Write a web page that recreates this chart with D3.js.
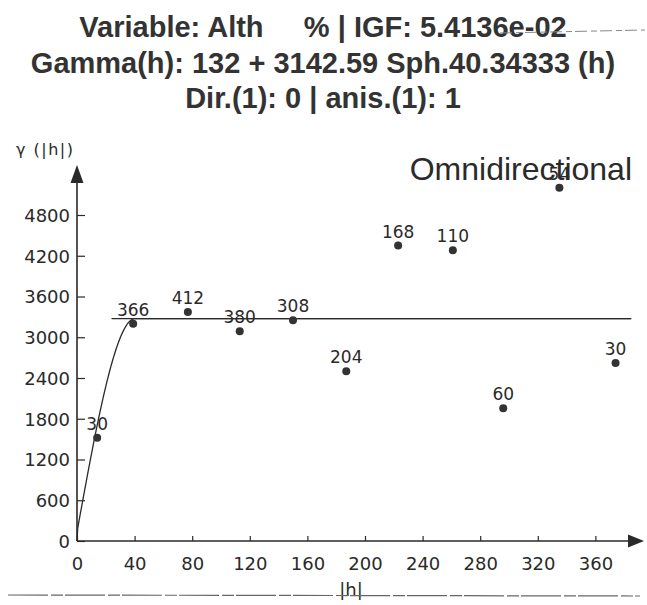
<!DOCTYPE html>
<html>
<head>
<meta charset="utf-8">
<script src="https://cdn.jsdelivr.net/npm/d3@7"></script>
<style>
  html, body { margin: 0; padding: 0; background: #fff; }
  svg { display: block; font-family: "DejaVu Sans", sans-serif; }
</style>
</head>
<body>
<svg id="chart" width="647" height="605"></svg>
<script>
// Experimental variogram: lag distance, semivariance and number of pairs
const lagH     = [14, 39, 77, 113, 150, 187, 223, 261, 296, 335, 374];
const gammaVal = [1520, 3200, 3370, 3090, 3250, 2500, 4350, 4280, 1955, 5200, 2620];
const pairs    = [30, 366, 412, 380, 308, 204, 168, 110, 60, 54, 30];

// Fitted model: nugget + spherical structure
const nugget = 132;
const sillPart = 3142.59;
const rangeA = 40.34333;
const sillLineFrom = 24;   // the sill reference line starts at this lag

const xTicks = [0, 40, 80, 120, 160, 200, 240, 280, 320, 360];
const yTicks = [0, 600, 1200, 1800, 2400, 3000, 3600, 4200, 4800];

const titleLines = [
  "Variable: Alth     % | IGF: 5.4136e-02",
  "Gamma(h): 132 + 3142.59 Sph.40.34333 (h)",
  "Dir.(1): 0 | anis.(1): 1"
];

const ink = "#2a2a2a";
const svg = d3.select("#chart");

const x = d3.scaleLinear().domain([0, 360]).range([77, 595.4]);
const y = d3.scaleLinear().domain([0, 4800]).range([541, 215]);

// Titles
svg.selectAll("text.title").data(titleLines).enter().append("text")
  .attr("class", "title")
  .attr("x", 323).attr("y", (d, i) => [37, 73, 108][i])
  .attr("text-anchor", "middle")
  .attr("font-family", "Liberation Sans, Arial, sans-serif")
  .attr("font-size", 29).attr("font-weight", "bold")
  .attr("fill", "#333")
  .style("white-space", "pre")
  .text(d => d);

// Axes
const gx = svg.append("g").attr("transform", `translate(0,${y(0)})`)
  .call(d3.axisBottom(x).tickValues(xTicks).tickSize(-5).tickPadding(16).tickFormat(d3.format("d")));
const gy = svg.append("g").attr("transform", `translate(${x(0)},0)`)
  .call(d3.axisLeft(y).tickValues(yTicks).tickSize(-8).tickPadding(7).tickFormat(d3.format("d")));
[gx, gy].forEach(g => {
  g.select(".domain").remove();
  g.selectAll(".tick line").attr("stroke", ink).attr("stroke-width", 1.2);
  g.selectAll(".tick text").attr("fill", ink).attr("font-size", 18)
    .attr("font-family", "DejaVu Sans, sans-serif");
});
gy.selectAll(".tick text").attr("dy", "0.36em");

// Axis lines with arrows
const xEnd = 628, yTop = 183;
svg.append("line").attr("x1", x(0)).attr("y1", y(0)).attr("x2", xEnd).attr("y2", y(0))
  .attr("stroke", ink).attr("stroke-width", 1.6);
svg.append("line").attr("x1", x(0)).attr("y1", y(0)).attr("x2", x(0)).attr("y2", yTop)
  .attr("stroke", ink).attr("stroke-width", 1.6);
svg.append("path")
  .attr("d", `M${xEnd},${y(0) - 6.5}L${xEnd + 16},${y(0)}L${xEnd},${y(0) + 6.5}Z`)
  .attr("fill", ink);
svg.append("path")
  .attr("d", `M${x(0) - 6.5},${yTop}L${x(0)},${yTop - 18}L${x(0) + 6.5},${yTop}Z`)
  .attr("fill", ink);

// Axis titles and direction label
svg.append("text").attr("x", 16).attr("y", 155).attr("font-size", 16).attr("fill", ink)
  .attr("letter-spacing", 1.5).style("white-space", "pre")
  .text("γ (|h|)");
svg.append("text").attr("x", 351).attr("y", 596).attr("text-anchor", "middle")
  .attr("font-size", 18).attr("fill", ink).text("|h|");
svg.append("text").attr("x", 632).attr("y", 180).attr("text-anchor", "end")
  .attr("font-family", "Liberation Sans, Arial, sans-serif")
  .attr("font-size", 32).attr("fill", ink).text("Omnidirectional");

// Sill reference line
const sillTotal = nugget + sillPart;
svg.append("line")
  .attr("x1", x(sillLineFrom)).attr("x2", x(385))
  .attr("y1", y(sillTotal)).attr("y2", y(sillTotal))
  .attr("stroke", ink).attr("stroke-width", 1.2);

// Model curve
const model = h => {
  if (h === 0) return 0;
  if (h >= rangeA) return sillTotal;
  const r = h / rangeA;
  return nugget + sillPart * (1.5 * r - 0.5 * r * r * r);
};
const hs = d3.range(0, 385, 0.5);
svg.append("path").datum(hs)
  .attr("d", d3.line().x(h => x(h)).y(h => y(model(h))))
  .attr("fill", "none").attr("stroke", ink).attr("stroke-width", 1.3);

// Points and pair counts
const pts = lagH.map((h, i) => ({h, g: gammaVal[i], n: pairs[i]}));
svg.selectAll("circle.pt").data(pts).enter().append("circle")
  .attr("class", "pt")
  .attr("cx", d => x(d.h)).attr("cy", d => y(d.g)).attr("r", 4)
  .attr("fill", "#333");
svg.selectAll("text.np").data(pts).enter().append("text")
  .attr("class", "np")
  .attr("x", d => x(d.h)).attr("y", d => y(d.g) - 8)
  .attr("text-anchor", "middle").attr("font-size", 17).attr("fill", ink)
  .text(d => d.n);

// Page rules above and below the chart
svg.append("line").attr("x1", 8).attr("x2", 640).attr("y1", 595).attr("y2", 596)
  .attr("stroke", "#666").attr("stroke-width", 1.2).attr("stroke-dasharray", "40,3,12,2");
svg.append("line").attr("x1", 500).attr("x2", 645).attr("y1", 33).attr("y2", 30)
  .attr("stroke", "#888").attr("stroke-width", 1).attr("stroke-dasharray", "12,4,6,3");
</script>
</body>
</html>
